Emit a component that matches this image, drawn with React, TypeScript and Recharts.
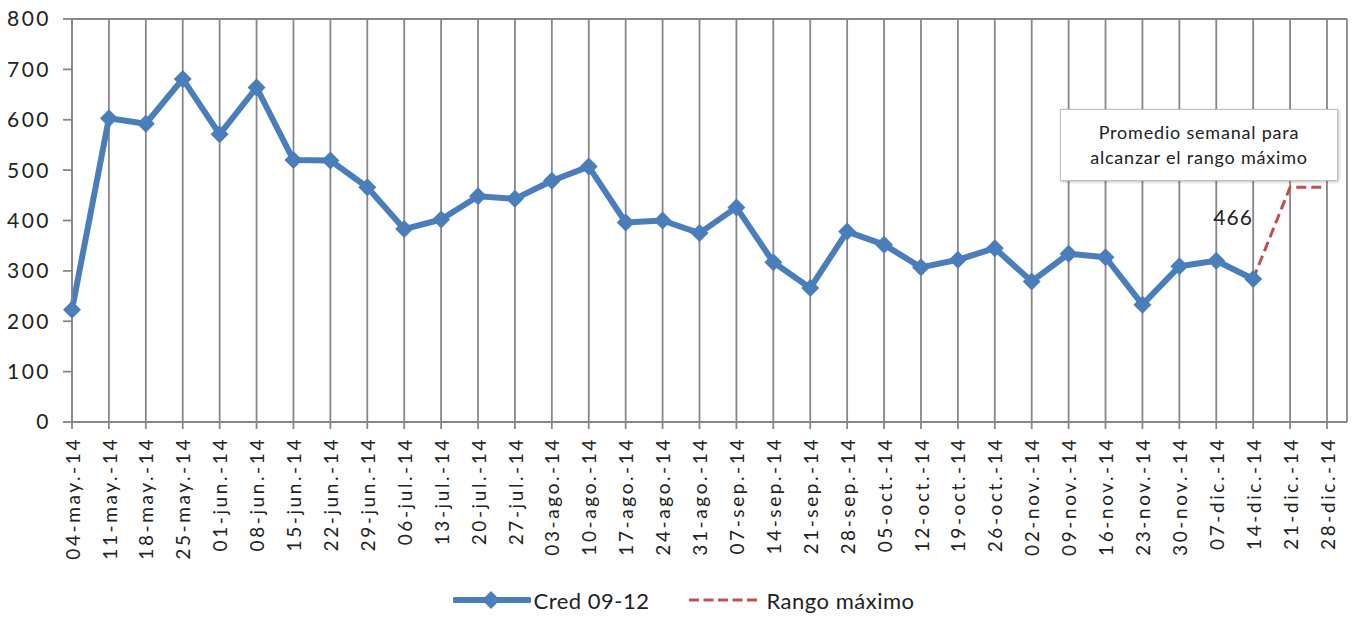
import { LineChart, Line, XAxis, YAxis, CartesianGrid, Legend } from 'recharts'

const weeks = [
  '04-may.-14', '11-may.-14', '18-may.-14', '25-may.-14', '01-jun.-14', '08-jun.-14', '15-jun.-14',
  '22-jun.-14', '29-jun.-14', '06-jul.-14', '13-jul.-14', '20-jul.-14', '27-jul.-14', '03-ago.-14',
  '10-ago.-14', '17-ago.-14', '24-ago.-14', '31-ago.-14', '07-sep.-14', '14-sep.-14', '21-sep.-14',
  '28-sep.-14', '05-oct.-14', '12-oct.-14', '19-oct.-14', '26-oct.-14', '02-nov.-14', '09-nov.-14',
  '16-nov.-14', '23-nov.-14', '30-nov.-14', '07-dic.-14', '14-dic.-14', '21-dic.-14', '28-dic.-14',
]

const cred = [
  223, 603, 592, 681, 571, 664, 520, 519, 466, 383, 402, 448, 443, 479, 507, 396, 400,
  375, 426, 317, 266, 378, 352, 307, 322, 345, 279, 334, 327, 233, 309, 320, 284,
]

const rango: (number | null)[] = [...Array(32).fill(null), 284, 466, 466]

const yTicks = [0, 100, 200, 300, 400, 500, 600, 700, 800]

const BLUE = '#4a7ebb'
const RED = '#c0504d'
const GRID = '#878787'
const TEXT = '#222'
const FONT = 'Lato, sans-serif'

const data = weeks.map((w, i) => ({ week: w, cred: cred[i] ?? null, rango: rango[i] }))

const XTick = ({ x, y, payload }: any) => (
  <g transform={`translate(${x},${y}) rotate(-90)`}>
    <text x={0} y={0} dy="0.4em" textAnchor="end" fill={TEXT} fontSize={19} letterSpacing={2.6} fontFamily={FONT}>
      {payload.value}
    </text>
  </g>
)

const Diamond = (p: any) => {
  const { cx, cy, index } = p
  if (cx == null || cy == null || p.value == null) return <g key={index} />
  const r = 9
  return <path key={index} d={`M${cx},${cy - r}L${cx + r},${cy}L${cx},${cy + r}L${cx - r},${cy}Z`} fill={BLUE} />
}

const rangoLabel = (p: any) => {
  if (p.index !== 33) return <g />
  return (
    <text x={p.x - 57} y={p.y + 38} textAnchor="middle" fill={TEXT} fontSize={21} letterSpacing={1} fontFamily={FONT}>
      {p.value}
    </text>
  )
}

const LegendBox = () => (
  <div style={{ display: 'flex', justifyContent: 'center', alignItems: 'center', height: 36, fontFamily: FONT, fontSize: 22, color: TEXT, paddingLeft: 20 }}>
    <svg width={78} height={20} style={{ marginRight: 3 }}>
      <line x1={2} y1={10} x2={76} y2={10} stroke={BLUE} strokeWidth={6} strokeLinecap="round" />
      <path d="M38,1L47,10L38,19L29,10Z" fill={BLUE} />
    </svg>
    <span style={{ letterSpacing: 0.5 }}>Cred 09-12</span>
    <svg width={76} height={20} style={{ marginLeft: 38, marginRight: 3 }}>
      <line x1={2} y1={10} x2={74} y2={10} stroke={RED} strokeWidth={3} strokeDasharray="10 4.5" />
    </svg>
    <span style={{ letterSpacing: 0.5 }}>Rango máximo</span>
  </div>
)

export default function App() {
  return (
    <div style={{ position: 'absolute', left: 0, top: 0, width: 1353, height: 618, background: '#fff', fontFamily: FONT }}>
      <LineChart width={1353} height={618} data={data} margin={{ top: 19, right: 6, left: 0, bottom: 0 }}>
        <CartesianGrid stroke={GRID} strokeWidth={1.8} />
        <XAxis
          dataKey="week"
          interval={0}
          height={160}
          padding={{ left: 0, right: 20 }}
          tick={<XTick />}
          tickSize={7}
          tickMargin={8}
          axisLine={{ stroke: GRID, strokeWidth: 1.8 }}
          tickLine={{ stroke: GRID, strokeWidth: 1.8 }}
        />
        <YAxis
          yAxisId="l"
          width={72}
          domain={[0, 800]}
          ticks={yTicks}
          tickSize={9}
          tickMargin={12}
          tick={{ fill: TEXT, fontSize: 21, letterSpacing: 2.5, fontFamily: FONT }}
          axisLine={{ stroke: GRID, strokeWidth: 1.8 }}
          tickLine={{ stroke: GRID, strokeWidth: 1.8 }}
        />
        <YAxis yAxisId="r" orientation="right" width={0} domain={[0, 800]} tick={false} tickLine={false} axisLine={{ stroke: GRID, strokeWidth: 1.8 }} />
        <Legend verticalAlign="bottom" content={<LegendBox />} />
        <Line
          yAxisId="l"
          type="linear"
          dataKey="cred"
          name="Cred 09-12"
          stroke={BLUE}
          strokeWidth={6}
          strokeLinejoin="round"
          dot={Diamond}
          activeDot={false}
          isAnimationActive={false}
        />
        <Line
          yAxisId="l"
          type="linear"
          dataKey="rango"
          name="Rango máximo"
          stroke={RED}
          strokeWidth={3}
          strokeDasharray="10 5"
          dot={false}
          activeDot={false}
          label={rangoLabel}
          isAnimationActive={false}
        />
      </LineChart>
      <div
        style={{
          position: 'absolute', left: 1060, top: 109, width: 278, height: 72, boxSizing: 'border-box',
          border: '1.5px solid #bfbfbf', background: '#fff', boxShadow: '1px 1px 3px rgba(0,0,0,0.25)',
          display: 'flex', flexDirection: 'column', justifyContent: 'center', alignItems: 'center',
          fontSize: 18, lineHeight: '25px', color: TEXT, letterSpacing: 0.8, textAlign: 'center',
        }}
      >
        <div>Promedio semanal para</div>
        <div>alcanzar el rango máximo</div>
      </div>
    </div>
  )
}
